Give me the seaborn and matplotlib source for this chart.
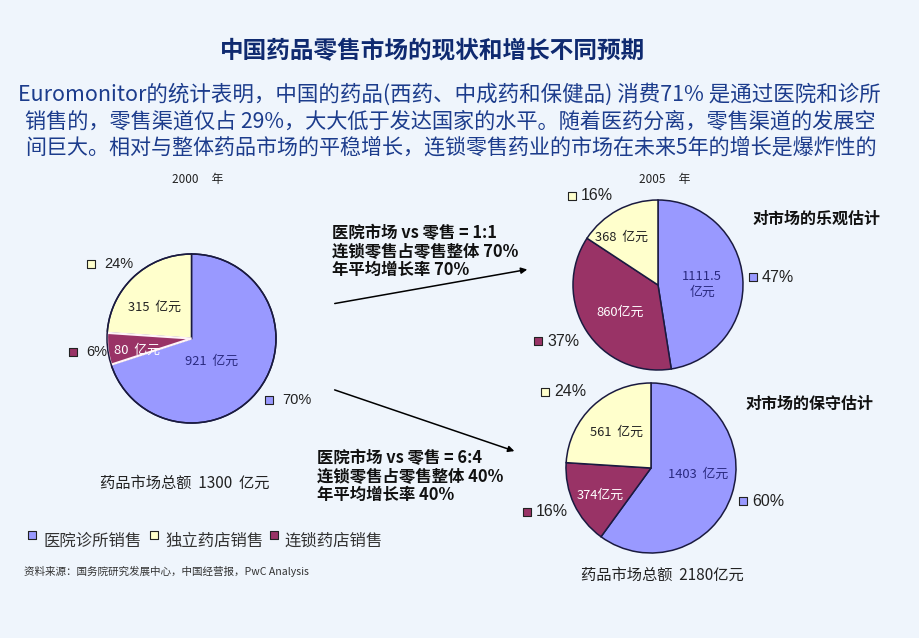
import matplotlib
matplotlib.use("Agg")
import matplotlib.pyplot as plt
import matplotlib.patches as mpatches
import seaborn as sns

# ---------------- data ----------------
categories = ["医院诊所销售", "独立药店销售", "连锁药店销售"]
vals_2000 = [921, 80, 315]          # hospital, chain, independent (亿元)
vals_2005_opt = [1111.5, 860, 368]
vals_2005_con = [1403, 374, 561]
pct_2000 = ["70%", "6%", "24%"]
pct_2005_opt = ["47%", "37%", "16%"]
pct_2005_con = ["60%", "16%", "24%"]
inner_2000 = ["921  亿元", "80  亿元", "315  亿元"]
inner_2005_opt = ["1111.5\n亿元", "860亿元", "368  亿元"]
inner_2005_con = ["1403  亿元", "374亿元", "561  亿元"]
total_2000 = "药品市场总额  1300  亿元"
total_2005 = "药品市场总额  2180亿元"

title = "中国药品零售市场的现状和增长不同预期"
para = ["Euromonitor的统计表明，中国的药品(西药、中成药和保健品) 消费71% 是通过医院和诊所",
        "销售的，零售渠道仅占 29%，大大低于发达国家的水平。随着医药分离，零售渠道的发展空",
        "间巨大。相对与整体药品市场的平稳增长，连锁零售药业的市场在未来5年的增长是爆炸性的"]
arrow1_lines = ["医院市场 vs 零售 = 1:1", "连锁零售占零售整体 70%", "年平均增长率 70%"]
arrow2_lines = ["医院市场 vs 零售 = 6:4", "连锁零售占零售整体 40%", "年平均增长率 40%"]
source = "资料来源：国务院研究发展中心，中国经营报，PwC Analysis"

# ---------------- style ----------------
bg = "#EFF5FC"
sns.set_theme(style="white", rc={"figure.facecolor": bg, "axes.facecolor": bg})
plt.rcParams['font.family'] = ['Noto Sans CJK SC', 'DejaVu Sans']
palette = sns.color_palette(["#9999FF", "#FFFFCC", "#993366"])  # hospital, independent, chain
edge = "#1A1A40"

W, H = 920, 638
fig = plt.figure(figsize=(9.2, 6.38), dpi=100)
ax = fig.add_axes([0, 0, 1, 1])
ax.set_xlim(0, W)
ax.set_ylim(0, H)

def Y(y):
    return H - y

def draw_pie(vals, cx, cy, r, inner, inner_pos, inner_cols, pct, pct_pos, pct_size,
             pct_gap, white_chain=False):
    cols = [palette[0], palette[2], palette[1]]
    wedges, _ = ax.pie(vals, colors=cols, startangle=90, counterclock=False,
                       center=(cx, Y(cy)), radius=r, frame=True,
                       wedgeprops=dict(edgecolor=edge, linewidth=1.1))
    if white_chain:
        wedges[1].set_edgecolor("#FFF4F8")
        wedges[1].set_linewidth(1.6)
        wedges[1].set_zorder(3)
        ax.add_patch(mpatches.Circle((cx, Y(cy)), r, fill=False, edgecolor=edge,
                                     linewidth=1.1, zorder=4))
    for t, (x, y), c in zip(inner, inner_pos, inner_cols):
        ax.text(x, Y(y), t, ha="center", va="center", fontsize=9.3, color=c,
                linespacing=1.3, zorder=6)
    for i, (t, (mx, my)) in enumerate(zip(pct, pct_pos)):
        ax.scatter([mx], [Y(my)], marker="s", s=38, color=cols[i],
                   edgecolor="#222222", linewidth=0.8, zorder=5)
        ax.text(mx + pct_gap, Y(my), t, ha="left", va="center", fontsize=pct_size,
                color="#222222", family=["Liberation Sans", "DejaVu Sans"])

ink_cols = ["#2A2A80", "white", "#222222"]
draw_pie(vals_2000, 191.5, 338.5, 84.5, inner_2000,
         [(212, 361), (137, 350), (155, 307)], ink_cols,
         pct_2000, [(269, 400), (73, 352), (91, 264)], 10.5, 13, white_chain=True)
draw_pie(vals_2005_opt, 658, 285, 85, inner_2005_opt,
         [(702, 284), (620, 312), (622, 237)], ink_cols,
         pct_2005_opt, [(753, 277), (538, 341), (572, 196)], 11.5, 9)
draw_pie(vals_2005_con, 651, 468, 85, inner_2005_con,
         [(698, 474), (600, 495), (617, 432)], ink_cols,
         pct_2005_con, [(743, 501), (527, 512), (545, 392)], 11.5, 9)

# title
ax.text(433, Y(51), title, ha="center", va="center", fontsize=17,
        fontweight="bold", color="#0F2A70")

# paragraph, each line fitted to the reference's justified width
renderer = fig.canvas.get_renderer()
for (x0, x1, y), line in zip([(18, 882, 94), (25, 880, 122), (25, 880, 148)], para):
    t = ax.text(x0, Y(y), line, ha="left", va="center", fontsize=15,
                color="#1C3C8C")
    w = t.get_window_extent(renderer=renderer).width
    t.set_fontsize(15 * (x1 - x0) / w)

# year labels
ax.text(198, Y(180), "2000     年", ha="center", va="center", fontsize=8.5, color="#222222")
ax.text(665, Y(180), "2005     年", ha="center", va="center", fontsize=8.5, color="#222222")

# totals
ax.text(185, Y(483), total_2000, ha="center", va="center", fontsize=11, color="#222222")
ax.text(662, Y(575), total_2005, ha="center", va="center", fontsize=11, color="#222222")

# scenario labels
ax.text(753, Y(219), "对市场的乐观估计", ha="left", va="center", fontsize=11.5,
        fontweight="bold", color="#111111")
ax.text(746, Y(404), "对市场的保守估计", ha="left", va="center", fontsize=11.5,
        fontweight="bold", color="#111111")

# arrows and their texts
ax.annotate("", xy=(530, Y(269)), xytext=(332, Y(304)),
            arrowprops=dict(arrowstyle="-|>", color="black", lw=1.1, mutation_scale=9))
ax.annotate("", xy=(517, Y(452)), xytext=(332, Y(389)),
            arrowprops=dict(arrowstyle="-|>", color="black", lw=1.1, mutation_scale=9))
for x0, ys, lines in [(332, [233, 251, 270], arrow1_lines),
                      (317, [458, 476, 495], arrow2_lines)]:
    for y, line in zip(ys, lines):
        ax.text(x0, Y(y), line, ha="left", va="center", fontsize=11.8,
                fontweight="bold", color="#111111")

# legend
leg_marks = [(32, 535), (154, 535), (274, 535)]
for (mx, my), name, ci in zip(leg_marks, categories, [0, 1, 2]):
    ax.scatter([mx], [Y(my)], marker="s", s=34, color=palette[ci],
               edgecolor="#222222", linewidth=0.8, zorder=5)
    ax.text(mx + 11, Y(541), name, ha="left", va="center", fontsize=11.8,
            color="#333333")

ax.text(24, Y(571), source, ha="left", va="center", fontsize=7.6, color="#333333")

ax.set_xlim(0, W)
ax.set_ylim(0, H)
ax.set_aspect("auto")
ax.axis("off")

fig.savefig("out.png", dpi=100, facecolor=bg)
